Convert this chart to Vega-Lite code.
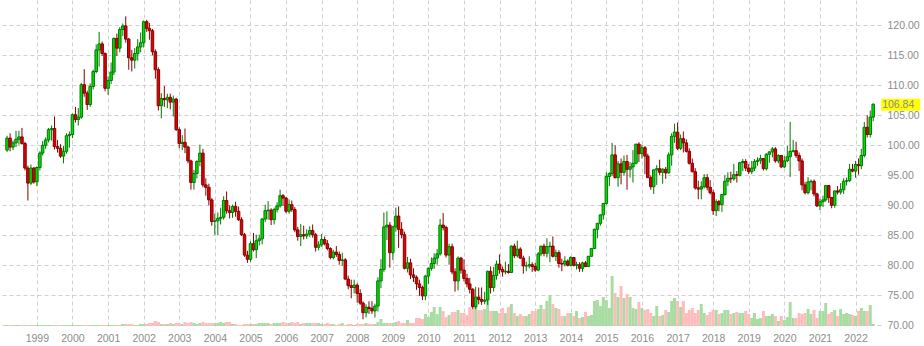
{
"$schema": "https://vega.github.io/schema/vega-lite/v6.json",
"width": 881, "height": 326,
"autosize": {"type": "none"},
"padding": {"left": 0, "top": 0, "right": 43, "bottom": 20},
"background": "white",
"config": {"view": {"stroke": null}, "axisY": {"labelOverlap": false, "labelFlush": false}, "axisX": {"labelOverlap": false, "labelFlush": false}},
"data": {"values": [
{"d":"1998-03","o":99.2,"h":101.6,"l":98.9,"c":101.2,"v":1},
{"d":"1998-04","o":101.2,"h":102.0,"l":99.0,"c":99.7,"v":1},
{"d":"1998-05","o":99.7,"h":100.8,"l":99.2,"c":100.4,"v":1},
{"d":"1998-06","o":100.4,"h":102.4,"l":99.7,"c":101.0,"v":1},
{"d":"1998-07","o":101.0,"h":102.4,"l":100.1,"c":101.4,"v":1},
{"d":"1998-08","o":101.4,"h":102.9,"l":100.1,"c":100.3,"v":1},
{"d":"1998-09","o":100.3,"h":100.6,"l":95.8,"c":96.2,"v":1},
{"d":"1998-10","o":96.2,"h":96.6,"l":90.8,"c":93.7,"v":1},
{"d":"1998-11","o":93.7,"h":96.8,"l":93.4,"c":96.2,"v":1},
{"d":"1998-12","o":96.2,"h":96.4,"l":93.6,"c":93.9,"v":1},
{"d":"1999-01","o":93.9,"h":96.5,"l":93.2,"c":96.3,"v":1},
{"d":"1999-02","o":96.3,"h":99.0,"l":95.8,"c":98.7,"v":1},
{"d":"1999-03","o":98.7,"h":100.7,"l":98.3,"c":100.0,"v":1},
{"d":"1999-04","o":100.0,"h":101.3,"l":99.4,"c":100.9,"v":1},
{"d":"1999-05","o":100.9,"h":102.9,"l":100.5,"c":102.6,"v":1},
{"d":"1999-06","o":102.6,"h":103.3,"l":100.8,"c":102.8,"v":1},
{"d":"1999-07","o":102.8,"h":104.8,"l":99.3,"c":99.8,"v":1},
{"d":"1999-08","o":99.8,"h":100.9,"l":98.8,"c":99.5,"v":1},
{"d":"1999-09","o":99.5,"h":100.2,"l":97.9,"c":98.2,"v":1},
{"d":"1999-10","o":98.2,"h":99.9,"l":97.0,"c":99.0,"v":1},
{"d":"1999-11","o":99.0,"h":102.0,"l":98.6,"c":101.6,"v":1},
{"d":"1999-12","o":101.6,"h":102.3,"l":99.6,"c":101.8,"v":1},
{"d":"2000-01","o":101.8,"h":105.3,"l":101.2,"c":105.1,"v":1},
{"d":"2000-02","o":105.1,"h":106.4,"l":103.8,"c":104.3,"v":1},
{"d":"2000-03","o":104.3,"h":106.2,"l":103.3,"c":104.7,"v":1},
{"d":"2000-04","o":104.7,"h":110.4,"l":104.4,"c":110.1,"v":1},
{"d":"2000-05","o":110.1,"h":112.7,"l":108.1,"c":108.7,"v":1},
{"d":"2000-06","o":108.7,"h":109.1,"l":105.9,"c":106.8,"v":1},
{"d":"2000-07","o":106.8,"h":110.3,"l":106.4,"c":109.8,"v":1},
{"d":"2000-08","o":109.8,"h":112.6,"l":109.3,"c":112.3,"v":1},
{"d":"2000-09","o":112.3,"h":116.8,"l":112.0,"c":115.9,"v":1},
{"d":"2000-10","o":115.9,"h":118.9,"l":113.1,"c":116.9,"v":1},
{"d":"2000-11","o":116.9,"h":117.3,"l":114.9,"c":115.3,"v":1},
{"d":"2000-12","o":115.3,"h":115.5,"l":109.0,"c":109.5,"v":1},
{"d":"2001-01","o":109.5,"h":111.5,"l":108.4,"c":110.8,"v":1},
{"d":"2001-02","o":110.8,"h":113.8,"l":110.2,"c":112.2,"v":1},
{"d":"2001-03","o":112.2,"h":118.0,"l":111.7,"c":117.8,"v":1},
{"d":"2001-04","o":117.8,"h":118.6,"l":114.9,"c":116.2,"v":1},
{"d":"2001-05","o":116.2,"h":119.7,"l":115.5,"c":119.3,"v":1},
{"d":"2001-06","o":119.3,"h":120.3,"l":118.2,"c":119.9,"v":2},
{"d":"2001-07","o":119.9,"h":121.5,"l":117.1,"c":117.7,"v":2},
{"d":"2001-08","o":117.7,"h":117.9,"l":112.6,"c":114.6,"v":2},
{"d":"2001-09","o":114.6,"h":115.9,"l":112.3,"c":114.2,"v":2},
{"d":"2001-10","o":114.2,"h":116.2,"l":112.8,"c":115.3,"v":1},
{"d":"2001-11","o":115.3,"h":117.7,"l":114.1,"c":116.4,"v":1},
{"d":"2001-12","o":116.4,"h":118.8,"l":115.5,"c":117.1,"v":2},
{"d":"2002-01","o":117.1,"h":120.8,"l":116.3,"c":120.6,"v":2},
{"d":"2002-02","o":120.6,"h":120.9,"l":118.9,"c":119.5,"v":2},
{"d":"2002-03","o":119.5,"h":120.4,"l":117.6,"c":119.1,"v":3},
{"d":"2002-04","o":119.1,"h":119.4,"l":115.0,"c":115.6,"v":3},
{"d":"2002-05","o":115.6,"h":116.0,"l":111.1,"c":112.6,"v":5},
{"d":"2002-06","o":112.6,"h":113.0,"l":105.8,"c":106.6,"v":4},
{"d":"2002-07","o":106.6,"h":108.7,"l":104.5,"c":107.8,"v":2},
{"d":"2002-08","o":107.8,"h":109.9,"l":106.4,"c":107.6,"v":2},
{"d":"2002-09","o":107.6,"h":108.6,"l":106.2,"c":108.0,"v":2},
{"d":"2002-10","o":108.0,"h":108.6,"l":106.0,"c":107.2,"v":3},
{"d":"2002-11","o":107.2,"h":108.3,"l":104.8,"c":107.7,"v":2},
{"d":"2002-12","o":107.7,"h":107.9,"l":102.4,"c":102.6,"v":3},
{"d":"2003-01","o":102.6,"h":103.0,"l":99.5,"c":100.3,"v":3},
{"d":"2003-02","o":100.3,"h":101.7,"l":99.2,"c":100.5,"v":2},
{"d":"2003-03","o":100.5,"h":102.8,"l":98.7,"c":99.7,"v":4},
{"d":"2003-04","o":99.7,"h":99.9,"l":97.0,"c":97.4,"v":3},
{"d":"2003-05","o":97.4,"h":97.6,"l":92.6,"c":93.8,"v":4},
{"d":"2003-06","o":93.8,"h":95.9,"l":92.6,"c":95.3,"v":3},
{"d":"2003-07","o":95.3,"h":97.5,"l":94.5,"c":97.3,"v":2},
{"d":"2003-08","o":97.3,"h":100.1,"l":96.5,"c":98.7,"v":3},
{"d":"2003-09","o":98.7,"h":99.4,"l":93.0,"c":93.4,"v":4},
{"d":"2003-10","o":93.4,"h":94.5,"l":91.6,"c":93.0,"v":3},
{"d":"2003-11","o":93.0,"h":93.6,"l":90.0,"c":90.9,"v":3},
{"d":"2003-12","o":90.9,"h":91.2,"l":86.6,"c":87.3,"v":3},
{"d":"2004-01","o":87.3,"h":88.6,"l":85.1,"c":87.4,"v":3},
{"d":"2004-02","o":87.4,"h":88.8,"l":85.0,"c":87.8,"v":3},
{"d":"2004-03","o":87.8,"h":89.6,"l":86.8,"c":88.0,"v":4},
{"d":"2004-04","o":88.0,"h":91.5,"l":87.6,"c":90.8,"v":3},
{"d":"2004-05","o":90.8,"h":92.3,"l":88.6,"c":89.1,"v":4},
{"d":"2004-06","o":89.1,"h":90.0,"l":87.8,"c":88.8,"v":4},
{"d":"2004-07","o":88.8,"h":90.1,"l":87.9,"c":89.8,"v":2},
{"d":"2004-08","o":89.8,"h":90.6,"l":88.1,"c":89.0,"v":2},
{"d":"2004-09","o":89.0,"h":89.8,"l":87.4,"c":87.6,"v":1},
{"d":"2004-10","o":87.6,"h":88.0,"l":84.9,"c":85.1,"v":1},
{"d":"2004-11","o":85.1,"h":85.4,"l":81.4,"c":81.7,"v":2},
{"d":"2004-12","o":81.7,"h":82.4,"l":80.4,"c":81.0,"v":2},
{"d":"2005-01","o":81.0,"h":84.0,"l":80.6,"c":83.6,"v":2},
{"d":"2005-02","o":83.6,"h":85.4,"l":82.3,"c":82.6,"v":2},
{"d":"2005-03","o":82.6,"h":85.1,"l":81.2,"c":84.1,"v":2},
{"d":"2005-04","o":84.1,"h":85.1,"l":83.3,"c":84.4,"v":3},
{"d":"2005-05","o":84.4,"h":87.9,"l":83.5,"c":87.7,"v":3},
{"d":"2005-06","o":87.7,"h":90.1,"l":87.2,"c":89.1,"v":3},
{"d":"2005-07","o":89.1,"h":90.7,"l":87.6,"c":89.2,"v":3},
{"d":"2005-08","o":89.2,"h":89.5,"l":86.7,"c":87.6,"v":2},
{"d":"2005-09","o":87.6,"h":89.6,"l":86.8,"c":89.3,"v":3},
{"d":"2005-10","o":89.3,"h":90.5,"l":88.8,"c":89.9,"v":3},
{"d":"2005-11","o":89.9,"h":92.6,"l":89.6,"c":91.6,"v":3},
{"d":"2005-12","o":91.6,"h":91.9,"l":89.9,"c":91.2,"v":4},
{"d":"2006-01","o":91.2,"h":91.4,"l":88.7,"c":89.0,"v":3},
{"d":"2006-02","o":89.0,"h":91.0,"l":88.6,"c":90.1,"v":3},
{"d":"2006-03","o":90.1,"h":90.8,"l":88.9,"c":89.3,"v":4},
{"d":"2006-04","o":89.3,"h":89.7,"l":85.5,"c":85.9,"v":3},
{"d":"2006-05","o":85.9,"h":86.4,"l":84.1,"c":84.8,"v":4},
{"d":"2006-06","o":84.8,"h":86.9,"l":83.2,"c":85.1,"v":2},
{"d":"2006-07","o":85.1,"h":86.6,"l":84.3,"c":84.9,"v":3},
{"d":"2006-08","o":84.9,"h":86.0,"l":84.4,"c":85.2,"v":3},
{"d":"2006-09","o":85.2,"h":86.5,"l":84.7,"c":85.8,"v":3},
{"d":"2006-10","o":85.8,"h":86.8,"l":84.6,"c":85.1,"v":3},
{"d":"2006-11","o":85.1,"h":85.4,"l":82.3,"c":83.0,"v":3},
{"d":"2006-12","o":83.0,"h":84.0,"l":82.5,"c":83.4,"v":3},
{"d":"2007-01","o":83.4,"h":85.2,"l":83.1,"c":84.3,"v":2},
{"d":"2007-02","o":84.3,"h":84.8,"l":83.3,"c":83.6,"v":2},
{"d":"2007-03","o":83.6,"h":84.2,"l":82.5,"c":82.8,"v":3},
{"d":"2007-04","o":82.8,"h":83.0,"l":81.0,"c":81.3,"v":2},
{"d":"2007-05","o":81.3,"h":82.6,"l":81.0,"c":82.2,"v":2},
{"d":"2007-06","o":82.2,"h":83.2,"l":81.4,"c":81.8,"v":1},
{"d":"2007-07","o":81.8,"h":82.3,"l":80.1,"c":80.8,"v":2},
{"d":"2007-08","o":80.8,"h":82.1,"l":79.9,"c":80.9,"v":3},
{"d":"2007-09","o":80.9,"h":81.2,"l":77.6,"c":77.7,"v":1},
{"d":"2007-10","o":77.7,"h":78.3,"l":76.0,"c":76.6,"v":2},
{"d":"2007-11","o":76.6,"h":77.6,"l":74.5,"c":76.3,"v":2},
{"d":"2007-12","o":76.3,"h":77.6,"l":75.3,"c":76.7,"v":1},
{"d":"2008-01","o":76.7,"h":77.0,"l":73.8,"c":75.3,"v":2},
{"d":"2008-02","o":75.3,"h":76.0,"l":73.4,"c":73.7,"v":2},
{"d":"2008-03","o":73.7,"h":74.0,"l":71.0,"c":72.1,"v":2},
{"d":"2008-04","o":72.1,"h":73.5,"l":71.3,"c":73.0,"v":3},
{"d":"2008-05","o":73.0,"h":74.0,"l":71.9,"c":72.8,"v":2},
{"d":"2008-06","o":72.8,"h":74.0,"l":71.9,"c":72.4,"v":2},
{"d":"2008-07","o":72.4,"h":73.6,"l":71.3,"c":73.2,"v":2},
{"d":"2008-08","o":73.2,"h":78.0,"l":72.3,"c":77.4,"v":4},
{"d":"2008-09","o":77.4,"h":81.0,"l":76.2,"c":79.3,"v":7},
{"d":"2008-10","o":79.3,"h":88.8,"l":78.9,"c":86.4,"v":3},
{"d":"2008-11","o":86.4,"h":89.0,"l":84.2,"c":86.7,"v":3},
{"d":"2008-12","o":86.7,"h":87.2,"l":79.6,"c":82.1,"v":3},
{"d":"2009-01","o":82.1,"h":86.6,"l":80.9,"c":86.4,"v":3},
{"d":"2009-02","o":86.4,"h":89.6,"l":85.6,"c":88.2,"v":4},
{"d":"2009-03","o":88.2,"h":89.8,"l":82.9,"c":86.0,"v":5},
{"d":"2009-04","o":86.0,"h":87.2,"l":84.5,"c":85.1,"v":3},
{"d":"2009-05","o":85.1,"h":85.6,"l":79.3,"c":79.5,"v":3},
{"d":"2009-06","o":79.5,"h":81.4,"l":78.8,"c":80.4,"v":6},
{"d":"2009-07","o":80.4,"h":81.1,"l":77.7,"c":78.4,"v":3},
{"d":"2009-08","o":78.4,"h":79.5,"l":77.2,"c":78.0,"v":3},
{"d":"2009-09","o":78.0,"h":78.3,"l":75.9,"c":76.9,"v":8},
{"d":"2009-10","o":76.9,"h":77.6,"l":74.9,"c":76.3,"v":8},
{"d":"2009-11","o":76.3,"h":76.6,"l":74.2,"c":74.9,"v":7},
{"d":"2009-12","o":74.9,"h":78.4,"l":74.2,"c":78.2,"v":12},
{"d":"2010-01","o":78.2,"h":79.6,"l":76.9,"c":79.5,"v":9},
{"d":"2010-02","o":79.5,"h":81.3,"l":79.1,"c":80.3,"v":14},
{"d":"2010-03","o":80.3,"h":82.0,"l":79.4,"c":81.2,"v":19},
{"d":"2010-04","o":81.2,"h":82.7,"l":80.1,"c":81.9,"v":12},
{"d":"2010-05","o":81.9,"h":87.7,"l":81.6,"c":86.7,"v":19},
{"d":"2010-06","o":86.7,"h":88.7,"l":85.8,"c":86.3,"v":15},
{"d":"2010-07","o":86.3,"h":86.6,"l":81.3,"c":81.7,"v":9},
{"d":"2010-08","o":81.7,"h":83.6,"l":80.1,"c":83.1,"v":11},
{"d":"2010-09","o":83.1,"h":83.6,"l":78.5,"c":78.9,"v":14},
{"d":"2010-10","o":78.9,"h":79.5,"l":75.6,"c":77.4,"v":14},
{"d":"2010-11","o":77.4,"h":81.5,"l":75.8,"c":81.2,"v":16},
{"d":"2010-12","o":81.2,"h":81.4,"l":78.6,"c":79.2,"v":13},
{"d":"2011-01","o":79.2,"h":81.0,"l":77.3,"c":77.8,"v":13},
{"d":"2011-02","o":77.8,"h":78.6,"l":76.3,"c":76.9,"v":11},
{"d":"2011-03","o":76.9,"h":77.9,"l":75.3,"c":76.0,"v":19},
{"d":"2011-04","o":76.0,"h":76.2,"l":72.7,"c":73.1,"v":17},
{"d":"2011-05","o":73.1,"h":76.4,"l":72.7,"c":74.7,"v":21},
{"d":"2011-06","o":74.7,"h":76.3,"l":73.5,"c":74.3,"v":16},
{"d":"2011-07","o":74.3,"h":76.3,"l":73.4,"c":74.0,"v":16},
{"d":"2011-08","o":74.0,"h":75.6,"l":73.5,"c":74.2,"v":17},
{"d":"2011-09","o":74.2,"h":79.1,"l":73.4,"c":79.0,"v":25},
{"d":"2011-10","o":79.0,"h":79.8,"l":75.3,"c":76.3,"v":15},
{"d":"2011-11","o":76.3,"h":79.7,"l":75.6,"c":78.3,"v":15},
{"d":"2011-12","o":78.3,"h":80.8,"l":77.6,"c":80.2,"v":15},
{"d":"2012-01","o":80.2,"h":81.8,"l":78.6,"c":79.3,"v":13},
{"d":"2012-02","o":79.3,"h":79.8,"l":78.1,"c":78.9,"v":18},
{"d":"2012-03","o":78.9,"h":80.6,"l":78.5,"c":79.0,"v":13},
{"d":"2012-04","o":79.0,"h":80.2,"l":78.6,"c":78.8,"v":19},
{"d":"2012-05","o":78.8,"h":83.3,"l":78.7,"c":83.2,"v":22},
{"d":"2012-06","o":83.2,"h":83.6,"l":81.2,"c":81.6,"v":13},
{"d":"2012-07","o":81.6,"h":84.1,"l":81.3,"c":82.7,"v":10},
{"d":"2012-08","o":82.7,"h":83.0,"l":81.1,"c":81.2,"v":12},
{"d":"2012-09","o":81.2,"h":81.6,"l":78.6,"c":79.9,"v":10},
{"d":"2012-10","o":79.9,"h":80.6,"l":79.0,"c":79.9,"v":10},
{"d":"2012-11","o":79.9,"h":81.5,"l":79.5,"c":80.1,"v":12},
{"d":"2012-12","o":80.1,"h":80.5,"l":78.9,"c":79.8,"v":15},
{"d":"2013-01","o":79.8,"h":80.4,"l":78.9,"c":79.2,"v":15},
{"d":"2013-02","o":79.2,"h":82.2,"l":79.0,"c":81.9,"v":17},
{"d":"2013-03","o":81.9,"h":83.2,"l":81.5,"c":83.2,"v":21},
{"d":"2013-04","o":83.2,"h":83.6,"l":81.5,"c":82.0,"v":17},
{"d":"2013-05","o":82.0,"h":84.5,"l":81.3,"c":83.1,"v":25},
{"d":"2013-06","o":83.1,"h":83.9,"l":80.5,"c":83.2,"v":31},
{"d":"2013-07","o":83.2,"h":84.8,"l":81.3,"c":81.5,"v":22},
{"d":"2013-08","o":81.5,"h":82.6,"l":80.7,"c":82.1,"v":18},
{"d":"2013-09","o":82.1,"h":82.5,"l":79.6,"c":80.3,"v":17},
{"d":"2013-10","o":80.3,"h":81.1,"l":79.0,"c":80.2,"v":10},
{"d":"2013-11","o":80.2,"h":81.5,"l":79.8,"c":80.7,"v":10},
{"d":"2013-12","o":80.7,"h":81.0,"l":79.8,"c":80.0,"v":13},
{"d":"2014-01","o":80.0,"h":81.5,"l":79.8,"c":81.3,"v":13},
{"d":"2014-02","o":81.3,"h":81.4,"l":79.8,"c":80.0,"v":10},
{"d":"2014-03","o":80.0,"h":80.6,"l":79.3,"c":80.1,"v":15},
{"d":"2014-04","o":80.1,"h":80.5,"l":78.9,"c":79.5,"v":8},
{"d":"2014-05","o":79.5,"h":80.6,"l":78.9,"c":80.4,"v":9},
{"d":"2014-06","o":80.4,"h":80.7,"l":79.7,"c":79.8,"v":14},
{"d":"2014-07","o":79.8,"h":81.5,"l":79.7,"c":81.5,"v":10},
{"d":"2014-08","o":81.5,"h":82.8,"l":81.4,"c":82.8,"v":11},
{"d":"2014-09","o":82.8,"h":86.1,"l":82.7,"c":86.0,"v":25},
{"d":"2014-10","o":86.0,"h":87.0,"l":84.5,"c":87.0,"v":26},
{"d":"2014-11","o":87.0,"h":88.5,"l":86.6,"c":88.4,"v":20},
{"d":"2014-12","o":88.4,"h":90.4,"l":87.6,"c":90.3,"v":29},
{"d":"2015-01","o":90.3,"h":95.5,"l":90.1,"c":94.8,"v":26},
{"d":"2015-02","o":94.8,"h":95.5,"l":93.2,"c":95.3,"v":18},
{"d":"2015-03","o":95.3,"h":100.4,"l":94.9,"c":98.4,"v":50},
{"d":"2015-04","o":98.4,"h":100.0,"l":94.5,"c":94.6,"v":33},
{"d":"2015-05","o":94.6,"h":97.4,"l":93.1,"c":96.9,"v":29},
{"d":"2015-06","o":96.9,"h":97.8,"l":93.5,"c":95.5,"v":40},
{"d":"2015-07","o":95.5,"h":98.3,"l":94.9,"c":97.3,"v":28},
{"d":"2015-08","o":97.3,"h":98.4,"l":92.6,"c":96.0,"v":32},
{"d":"2015-09","o":96.0,"h":97.2,"l":94.6,"c":96.4,"v":29},
{"d":"2015-10","o":96.4,"h":99.2,"l":93.8,"c":97.0,"v":18},
{"d":"2015-11","o":97.0,"h":100.2,"l":96.8,"c":100.2,"v":17},
{"d":"2015-12","o":100.2,"h":100.5,"l":97.2,"c":98.6,"v":24},
{"d":"2016-01","o":98.6,"h":100.1,"l":97.8,"c":99.6,"v":18},
{"d":"2016-02","o":99.6,"h":99.9,"l":95.2,"c":98.2,"v":16},
{"d":"2016-03","o":98.2,"h":98.6,"l":94.6,"c":94.6,"v":17},
{"d":"2016-04","o":94.6,"h":95.0,"l":92.6,"c":93.1,"v":13},
{"d":"2016-05","o":93.1,"h":96.0,"l":91.9,"c":95.9,"v":10},
{"d":"2016-06","o":95.9,"h":96.7,"l":93.4,"c":96.1,"v":20},
{"d":"2016-07","o":96.1,"h":97.6,"l":95.0,"c":95.5,"v":10},
{"d":"2016-08","o":95.5,"h":96.2,"l":93.6,"c":96.0,"v":11},
{"d":"2016-09","o":96.0,"h":96.4,"l":94.4,"c":95.4,"v":16},
{"d":"2016-10","o":95.4,"h":98.8,"l":95.3,"c":98.4,"v":14},
{"d":"2016-11","o":98.4,"h":102.0,"l":96.6,"c":101.5,"v":25},
{"d":"2016-12","o":101.5,"h":103.6,"l":100.4,"c":102.2,"v":28},
{"d":"2017-01","o":102.2,"h":103.8,"l":99.2,"c":99.5,"v":25},
{"d":"2017-02","o":99.5,"h":101.8,"l":99.2,"c":101.1,"v":19},
{"d":"2017-03","o":101.1,"h":102.3,"l":98.8,"c":100.4,"v":25},
{"d":"2017-04","o":100.4,"h":101.0,"l":98.8,"c":99.0,"v":13},
{"d":"2017-05","o":99.0,"h":99.5,"l":96.8,"c":97.0,"v":16},
{"d":"2017-06","o":97.0,"h":97.8,"l":95.5,"c":95.6,"v":18},
{"d":"2017-07","o":95.6,"h":96.2,"l":92.6,"c":92.9,"v":13},
{"d":"2017-08","o":92.9,"h":94.1,"l":91.0,"c":92.7,"v":16},
{"d":"2017-09","o":92.7,"h":94.0,"l":91.0,"c":93.1,"v":22},
{"d":"2017-10","o":93.1,"h":95.2,"l":92.8,"c":94.6,"v":13},
{"d":"2017-11","o":94.6,"h":95.2,"l":92.5,"c":93.0,"v":11},
{"d":"2017-12","o":93.0,"h":94.2,"l":91.8,"c":92.1,"v":14},
{"d":"2018-01","o":92.1,"h":92.6,"l":88.4,"c":89.1,"v":16},
{"d":"2018-02","o":89.1,"h":91.0,"l":88.2,"c":90.6,"v":16},
{"d":"2018-03","o":90.6,"h":90.9,"l":89.0,"c":90.1,"v":12},
{"d":"2018-04","o":90.1,"h":91.9,"l":88.9,"c":91.8,"v":13},
{"d":"2018-05","o":91.8,"h":95.0,"l":91.6,"c":94.0,"v":16},
{"d":"2018-06","o":94.0,"h":95.5,"l":93.2,"c":94.5,"v":16},
{"d":"2018-07","o":94.5,"h":95.6,"l":93.7,"c":94.4,"v":12},
{"d":"2018-08","o":94.4,"h":96.9,"l":94.1,"c":95.1,"v":13},
{"d":"2018-09","o":95.1,"h":95.7,"l":93.8,"c":95.0,"v":14},
{"d":"2018-10","o":95.0,"h":97.2,"l":94.8,"c":97.1,"v":13},
{"d":"2018-11","o":97.1,"h":97.7,"l":95.7,"c":97.3,"v":13},
{"d":"2018-12","o":97.3,"h":97.7,"l":95.7,"c":96.2,"v":15},
{"d":"2019-01","o":96.2,"h":96.9,"l":95.2,"c":95.6,"v":12},
{"d":"2019-02","o":95.6,"h":97.4,"l":95.2,"c":96.2,"v":8},
{"d":"2019-03","o":96.2,"h":97.7,"l":95.7,"c":97.3,"v":13},
{"d":"2019-04","o":97.3,"h":98.0,"l":96.6,"c":97.5,"v":7},
{"d":"2019-05","o":97.5,"h":98.4,"l":96.9,"c":97.8,"v":8},
{"d":"2019-06","o":97.8,"h":97.8,"l":95.8,"c":96.1,"v":15},
{"d":"2019-07","o":96.1,"h":98.7,"l":95.8,"c":98.5,"v":10},
{"d":"2019-08","o":98.5,"h":99.0,"l":97.1,"c":98.9,"v":10},
{"d":"2019-09","o":98.9,"h":99.7,"l":98.0,"c":99.4,"v":12},
{"d":"2019-10","o":99.4,"h":99.7,"l":97.1,"c":97.4,"v":10},
{"d":"2019-11","o":97.4,"h":98.5,"l":97.0,"c":98.3,"v":5},
{"d":"2019-12","o":98.3,"h":98.4,"l":96.2,"c":96.4,"v":10},
{"d":"2020-01","o":96.4,"h":98.2,"l":96.2,"c":97.4,"v":6},
{"d":"2020-02","o":97.4,"h":99.9,"l":97.2,"c":98.1,"v":9},
{"d":"2020-03","o":98.1,"h":103.9,"l":94.7,"c":99.0,"v":24},
{"d":"2020-04","o":99.0,"h":100.9,"l":98.8,"c":99.1,"v":8},
{"d":"2020-05","o":99.1,"h":100.6,"l":97.9,"c":98.3,"v":8},
{"d":"2020-06","o":98.3,"h":98.8,"l":95.7,"c":97.4,"v":13},
{"d":"2020-07","o":97.4,"h":97.8,"l":92.5,"c":93.4,"v":12},
{"d":"2020-08","o":93.4,"h":93.9,"l":91.8,"c":92.1,"v":13},
{"d":"2020-09","o":92.1,"h":94.7,"l":91.8,"c":93.9,"v":17},
{"d":"2020-10","o":93.9,"h":94.3,"l":92.5,"c":94.0,"v":12},
{"d":"2020-11","o":94.0,"h":94.3,"l":91.5,"c":91.9,"v":16},
{"d":"2020-12","o":91.9,"h":92.1,"l":89.7,"c":89.9,"v":8},
{"d":"2021-01","o":89.9,"h":91.1,"l":89.2,"c":90.6,"v":15},
{"d":"2021-02","o":90.6,"h":91.6,"l":89.7,"c":90.9,"v":15},
{"d":"2021-03","o":90.9,"h":93.4,"l":90.6,"c":93.3,"v":23},
{"d":"2021-04","o":93.3,"h":93.4,"l":90.4,"c":91.3,"v":12},
{"d":"2021-05","o":91.3,"h":91.4,"l":89.5,"c":90.0,"v":14},
{"d":"2021-06","o":90.0,"h":92.4,"l":89.6,"c":92.4,"v":16},
{"d":"2021-07","o":92.4,"h":93.2,"l":91.8,"c":92.2,"v":10},
{"d":"2021-08","o":92.2,"h":93.7,"l":91.8,"c":92.6,"v":17},
{"d":"2021-09","o":92.6,"h":94.5,"l":91.9,"c":94.0,"v":12},
{"d":"2021-10","o":94.0,"h":94.6,"l":93.3,"c":94.1,"v":13},
{"d":"2021-11","o":94.1,"h":96.9,"l":93.9,"c":96.0,"v":12},
{"d":"2021-12","o":96.0,"h":96.9,"l":95.5,"c":95.7,"v":11},
{"d":"2022-01","o":95.7,"h":97.4,"l":94.6,"c":96.8,"v":10},
{"d":"2022-02","o":96.8,"h":97.8,"l":95.1,"c":96.6,"v":15},
{"d":"2022-03","o":96.6,"h":99.4,"l":96.0,"c":98.3,"v":18},
{"d":"2022-04","o":98.3,"h":103.9,"l":98.0,"c":103.0,"v":15},
{"d":"2022-05","o":103.0,"h":105.0,"l":101.3,"c":101.8,"v":15},
{"d":"2022-06","o":101.8,"h":105.8,"l":101.3,"c":104.7,"v":21},
{"d":"2022-07","o":104.7,"h":107.0,"l":104.0,"c":106.84,"v":2}
]},
"encoding": {
  "x": {"field": "d", "type": "temporal",
    "scale": {"type": "utc", "domain": [{"year": 1998, "month": 2, "date": 8, "utc": true}, {"year": 2022, "month": 7, "date": 30, "utc": true}]},
    "axis": {"title": null, "format": "%Y",
      "values": [{"year":1999,"utc":true},{"year":2000,"utc":true},{"year":2001,"utc":true},{"year":2002,"utc":true},{"year":2003,"utc":true},{"year":2004,"utc":true},{"year":2005,"utc":true},{"year":2006,"utc":true},{"year":2007,"utc":true},{"year":2008,"utc":true},{"year":2009,"utc":true},{"year":2010,"utc":true},{"year":2011,"utc":true},{"year":2012,"utc":true},{"year":2013,"utc":true},{"year":2014,"utc":true},{"year":2015,"utc":true},{"year":2016,"utc":true},{"year":2017,"utc":true},{"year":2018,"utc":true},{"year":2019,"utc":true},{"year":2020,"utc":true},{"year":2021,"utc":true},{"year":2022,"utc":true}],
      "domain": false, "ticks": false, "labelPadding": 7, "labelFlush": false, "labelOverlap": false,
      "grid": true, "gridColor": "#d0d0d0", "gridDash": [4, 3], "gridWidth": 1,
      "labelColor": "#8c8c8c", "labelFont": "Liberation Sans", "labelFontSize": 10.5}}
},
"layer": [
  {"mark": {"type": "bar", "size": 3, "clip": true},
   "encoding": {
     "y": {"field": "v", "type": "quantitative", "scale": {"domain": [0, 326], "nice": false}, "axis": null},
     "color": {"condition": {"test": "datum.c >= datum.o", "value": "#a8dca2"}, "value": "#ffbcbc"}
   }},
  {"encoding": {
     "y": {"field": "l", "type": "quantitative",
       "scale": {"domain": [69.88, 124.22], "nice": false, "zero": false},
       "axis": {"orient": "right", "title": null, "values": [70, 75, 80, 85, 90, 95, 100, 105, 110, 115, 120],
         "format": ".2f", "domain": false, "ticks": false, "labelPadding": 6, "labelOverlap": false, "labelFlush": false,
         "grid": true, "gridColor": "#d0d0d0", "gridDash": [4, 3], "gridWidth": 1,
         "labelColor": "#8c8c8c", "labelFont": "Liberation Sans", "labelFontSize": 10.5}}
   },
   "layer": [
    {"mark": {"type": "rule", "strokeWidth": 1, "clip": true},
     "encoding": {
       "y2": {"field": "h"},
       "color": {"condition": {"test": "datum.c >= datum.o", "value": "#007800"}, "value": "#850000"}
     }},
    {"mark": {"type": "bar", "size": 2.5, "strokeWidth": 1, "clip": true},
     "encoding": {
       "y": {"field": "o", "type": "quantitative"},
       "y2": {"field": "c"},
       "fill": {"condition": {"test": "datum.c >= datum.o", "value": "#00e000"}, "value": "#e00000"},
       "stroke": {"condition": {"test": "datum.c >= datum.o", "value": "#007800"}, "value": "#850000"}
     }},
    {"transform": [{"filter": "datum.c == 106.84"}],
     "mark": {"type": "rect", "color": "#ffff00", "xOffset": 8, "x2Offset": 47, "yOffset": -5.5, "y2Offset": 6.5, "clip": false},
     "encoding": {"x2": {"field": "d"}, "y": {"field": "c", "type": "quantitative"}, "y2": {"field": "c"}}},
    {"transform": [{"filter": "datum.c == 106.84"}],
     "mark": {"type": "text", "align": "left", "baseline": "middle", "dx": 9, "dy": 0.5, "font": "Liberation Sans", "fontSize": 10.5, "color": "#8c8c8c", "clip": false},
     "encoding": {"y": {"field": "c", "type": "quantitative"}, "text": {"field": "c", "format": ".2f"}}}
  ]}
],
"resolve": {"scale": {"y": "independent"}}
}
